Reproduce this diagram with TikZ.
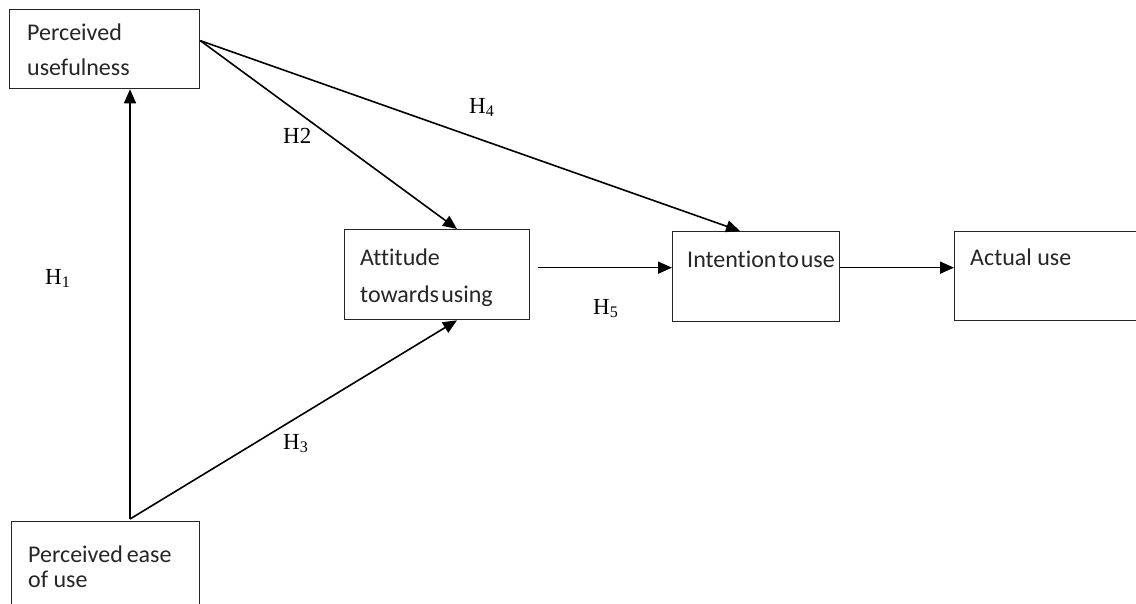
\documentclass[tikz,border=0pt]{standalone}
\usepackage{fontspec}
\setmainfont{Carlito}[Ligatures={NoCommon}]
\newfontfamily\tnr{Liberation Serif}
\usetikzlibrary{arrows.meta,calc}
\begin{document}
\begin{tikzpicture}[x=1pt,y=-1pt,
  box/.style={draw=black!85,line width=1.3pt,anchor=north west,inner sep=0pt},
  txt/.style={anchor=base west,inner sep=0pt,font=\fontsize{24}{30}\selectfont,text=black!85},
  hyp/.style={anchor=base west,inner sep=0pt,font=\tnr\fontsize{23}{26}\selectfont},
  arr/.style={line width=1.6pt,-{Triangle[length=14pt,width=12pt]}}]
\useasboundingbox[fill=white] (0,0) rectangle (1136,603);
% boxes
\node[box,minimum width=190pt,minimum height=79pt] (pu) at (9,9) {};
\node[box,minimum width=188pt,minimum height=100pt] (pe) at (11,521) {};
\node[box,minimum width=185pt,minimum height=90pt] (at) at (344,229) {};
\node[box,minimum width=167pt,minimum height=90pt] (in) at (672,231) {};
\node[box,minimum width=200pt,minimum height=89pt] (au) at (954,231) {};
% box texts
\node[txt] (pu1) at (27,40) {Perceived};
\node[txt] (pu2) at (27,75) {usefulness};
\node[txt] (pe1) at (28,562) {Perceived\kern-1.5pt\ ease};
\node[txt] (pe2) at (28,587) {of use};
\node[txt] (at1) at (360,265) {Attitude};
\node[txt] (at2) at (360,302) {towards\kern-3pt\ using};
\node[txt] (in1) at (687,267) {Intention\kern-3.5pt\ to\kern-3.5pt\ use};
\node[txt] (au1) at (970,265) {Actual use};
% connector points
\coordinate (puout) at ([yshift=8.5pt]pu.east);
\coordinate (peout) at ([xshift=119pt,yshift=2pt]pe.north west);
\coordinate (attop) at ([xshift=113pt]at.north west);
\coordinate (atbot) at ([xshift=113pt]at.south west);
\coordinate (intop) at ([xshift=68pt]in.north west);
\coordinate (a2i) at ([xshift=8pt,yshift=7pt]at.east);
% connectors
\draw[arr] (peout) -- (peout |- pu.south);
\draw[arr] (peout) -- (atbot);
\draw[arr] (puout) -- (attop);
\draw[arr] (puout) -- (intop);
\draw[arr] (a2i) -- (a2i -| in.west);
\draw[arr] (a2i -| in.east) -- (a2i -| au.west);
% hypothesis labels
\node[hyp] (h1) at (45,284) {H\textsubscript{1}};
\node[hyp] (h2) at (283,143) {H2};
\node[hyp] (h3) at (283,449) {H\textsubscript{3}};
\node[hyp] (h4) at (469,113) {H\textsubscript{4}};
\node[hyp] (h5) at (593,314) {H\textsubscript{5}};
\end{tikzpicture}
\end{document}
